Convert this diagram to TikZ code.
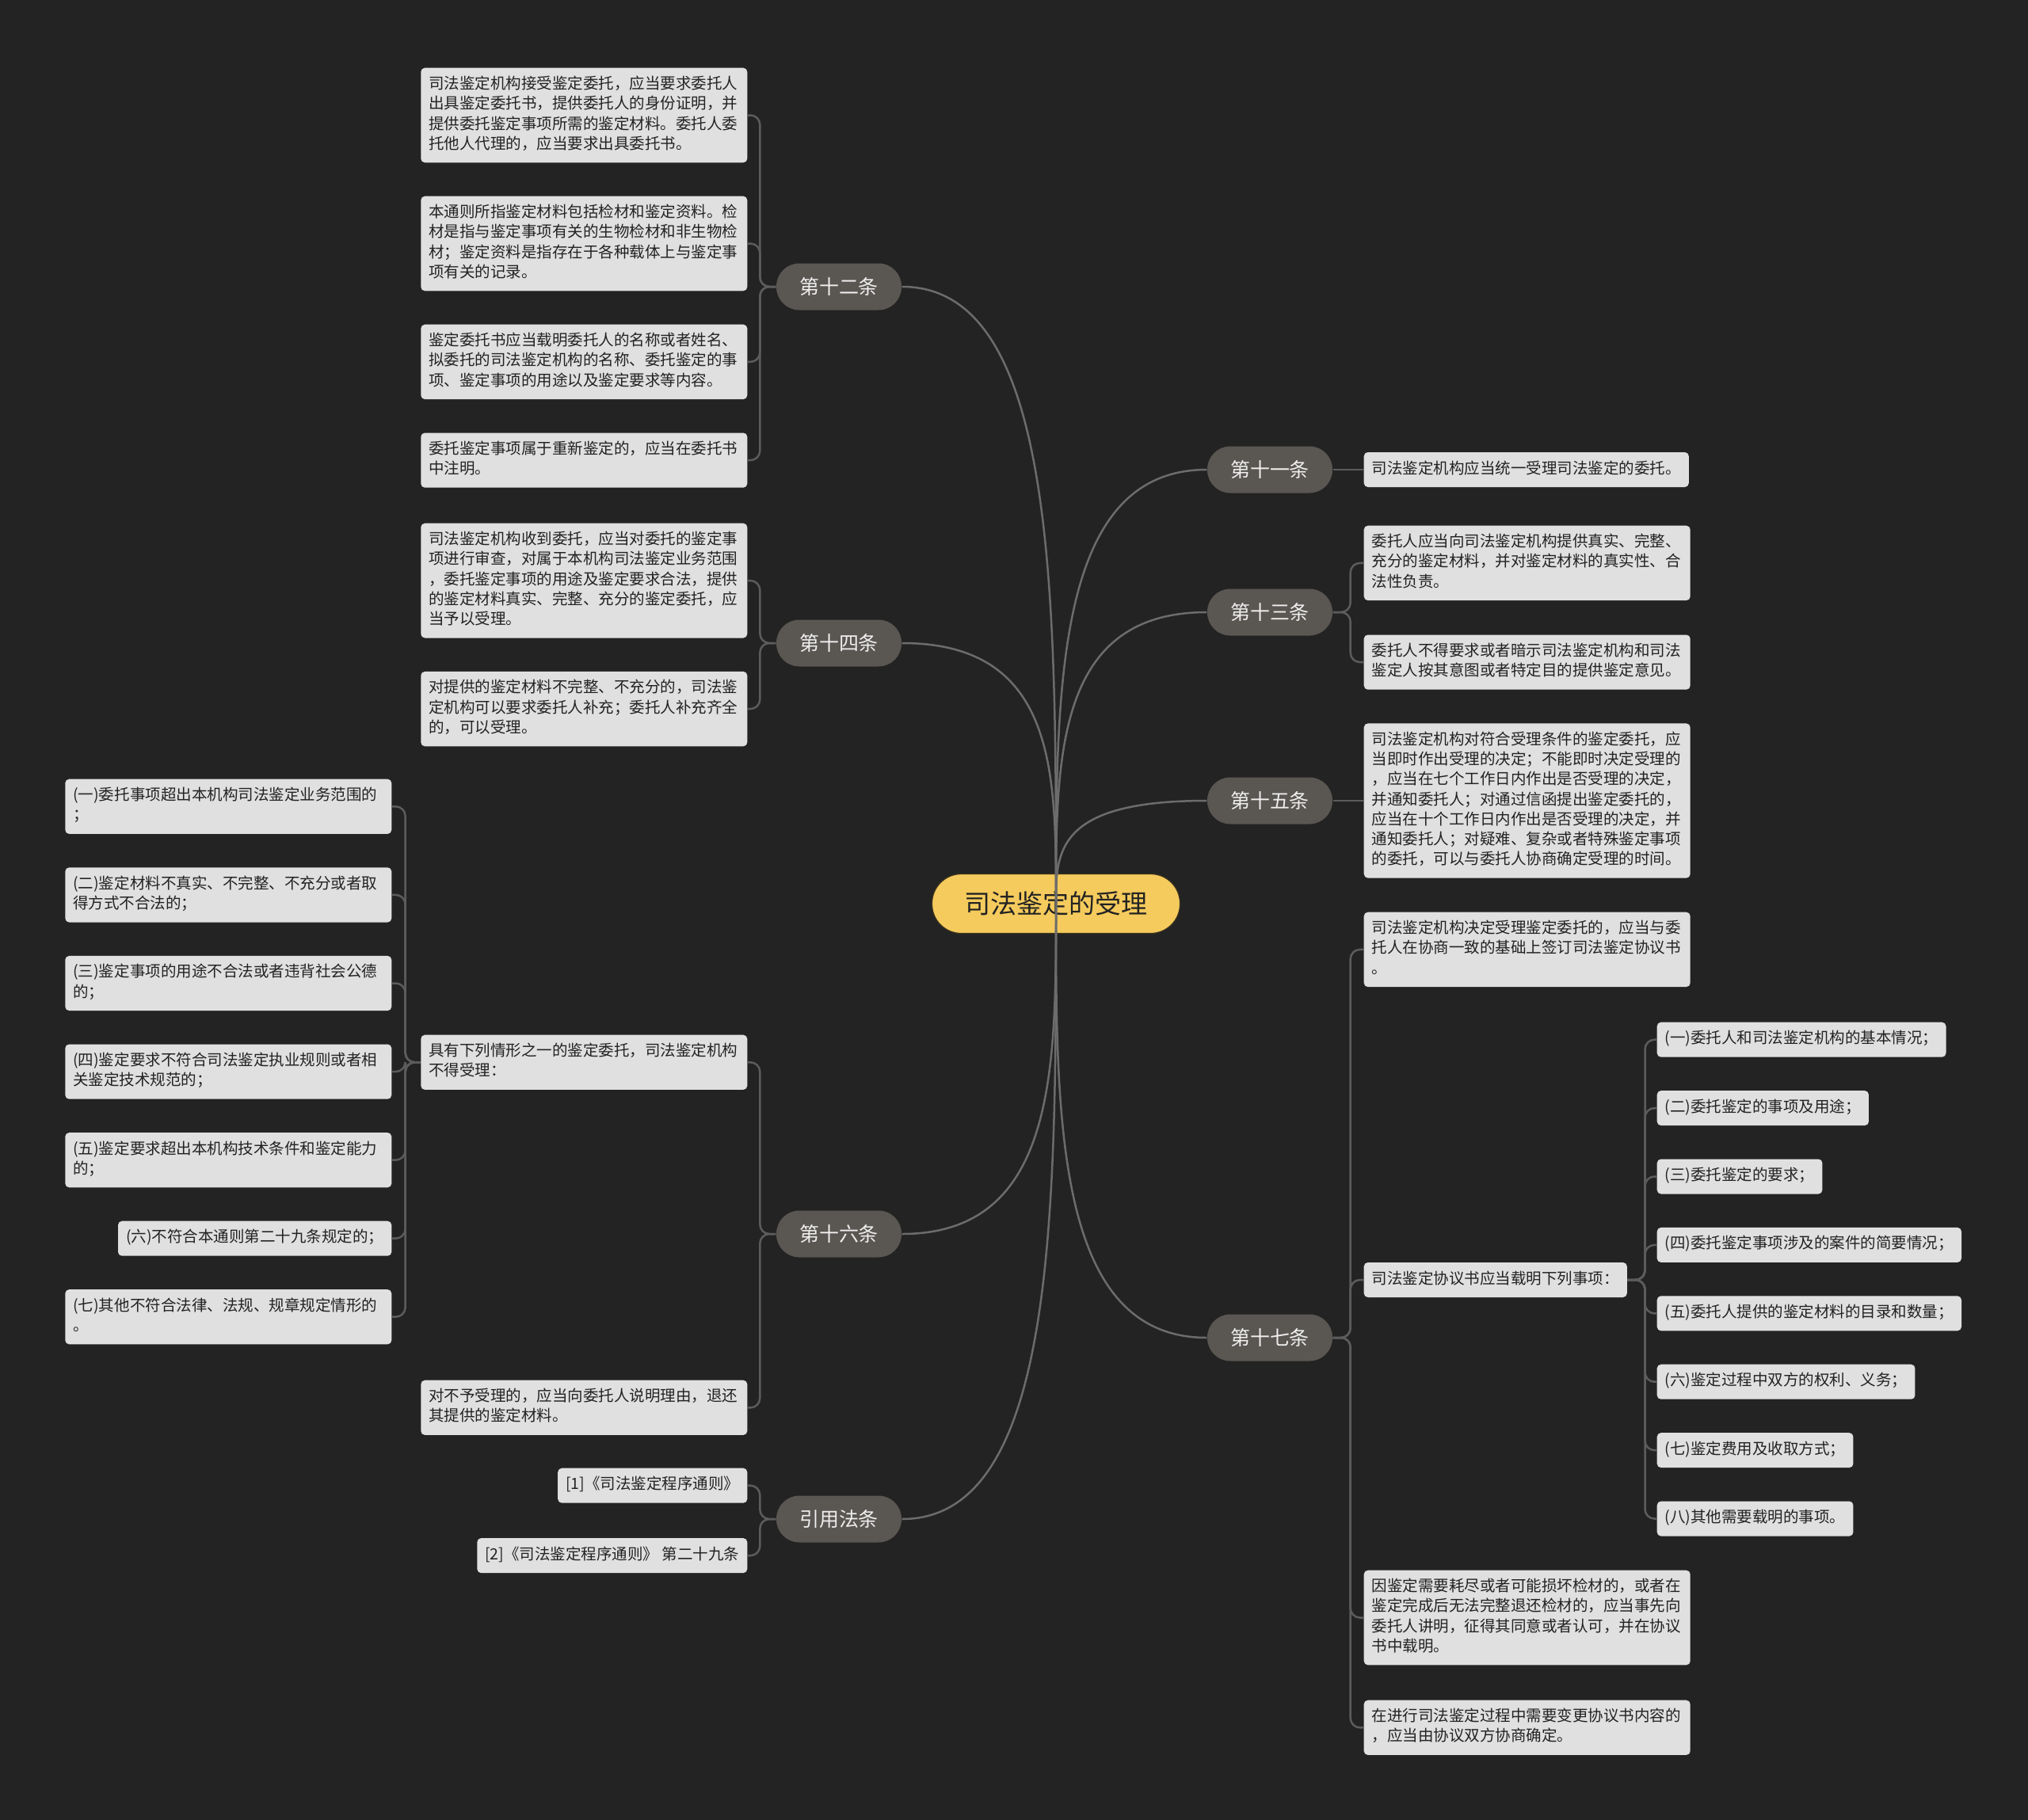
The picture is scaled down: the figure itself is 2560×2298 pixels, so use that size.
\documentclass[tikz,border=0pt]{standalone}
\usepackage{fontspec}
\newfontfamily\cjk{Noto Sans CJK SC}
\usetikzlibrary{positioning}
\setlength\parindent{0pt}

\definecolor{canvasbg}{RGB}{35,35,35}
\definecolor{leaffill}{RGB}{224,224,224}
\definecolor{leafink}{RGB}{34,34,34}
\definecolor{branchfill}{RGB}{90,86,82}
\definecolor{branchink}{RGB}{238,238,238}
\definecolor{topicfill}{RGB}{245,203,93}
\definecolor{topicedge}{RGB}{60,52,30}
\definecolor{trunkline}{RGB}{108,108,108}
\definecolor{twigline}{RGB}{92,92,92}

\newcommand\notefont{\cjk\fontsize{5.55pt}{7.17pt}\selectfont}
\newcommand\branchfont{\cjk\fontsize{7.1pt}{8.5pt}\selectfont}
\newcommand\topicfont{\cjk\fontsize{9.4pt}{11pt}\selectfont}

\begin{document}
\begin{tikzpicture}[
  x=0.1mm, y=-0.1mm,
  node distance=4.1mm,
  item/.style={fill=leaffill, text=leafink, rounded corners=0.5mm, inner xsep=1mm, inner ysep=0.94mm, font=\notefont, execute at begin node=\strut, execute at end node=\strut},
  note/.style={item, text width=39.2mm, align=left},
  branch/.style={fill=branchfill, text=branchink, rounded corners=2.9mm, minimum width=15.8mm, minimum height=5.9mm, inner sep=0pt, font=\branchfont},
  topic/.style={fill=topicfill, draw=topicedge, line width=0.12mm, text=leafink, rounded corners=3.7mm, minimum width=31.3mm, minimum height=7.5mm, inner sep=0pt, font=\topicfont},
  trunk/.style={draw=trunkline, line width=0.25mm},
  twig/.style={draw=twigline, line width=0.25mm, rounded corners=1.2mm}
]

\fill[canvasbg] (0,0) rectangle (2560,2298);

\node[topic] (root) at (1333,1141) {司法鉴定的受理};

\node[branch] (b12) at (1059,362) {第十二条};
\node[branch] (b14) at (1059,812) {第十四条};
\node[branch] (b16) at (1059,1558) {第十六条};
\node[branch] (bref) at (1059,1918) {引用法条};
\node[branch] (b11) at (1603,593) {第十一条};
\node[branch] (b13) at (1603,773) {第十三条};
\node[branch] (b15) at (1603,1011) {第十五条};
\node[branch] (b17) at (1603,1689) {第十七条};

% left side
\node[note, anchor=north east] (l12a) at (944,85) {司法鉴定机构接受鉴定委托，应当要求委托人\\出具鉴定委托书，提供委托人的身份证明，并\\提供委托鉴定事项所需的鉴定材料。委托人委\\托他人代理的，应当要求出具委托书。};
\node[note, below=of l12a] (l12b) {本通则所指鉴定材料包括检材和鉴定资料。检\\材是指与鉴定事项有关的生物检材和非生物检\\材；鉴定资料是指存在于各种载体上与鉴定事\\项有关的记录。};
\node[note, below=of l12b] (l12c) {鉴定委托书应当载明委托人的名称或者姓名、\\拟委托的司法鉴定机构的名称、委托鉴定的事\\项、鉴定事项的用途以及鉴定要求等内容。};
\node[note, below=of l12c] (l12d) {委托鉴定事项属于重新鉴定的，应当在委托书\\中注明。};

\node[note, anchor=north east] (l14a) at (944,660) {司法鉴定机构收到委托，应当对委托的鉴定事\\项进行审查，对属于本机构司法鉴定业务范围\\，委托鉴定事项的用途及鉴定要求合法，提供\\的鉴定材料真实、完整、充分的鉴定委托，应\\当予以受理。};
\node[note, below=of l14a] (l14b) {对提供的鉴定材料不完整、不充分的，司法鉴\\定机构可以要求委托人补充；委托人补充齐全\\的，可以受理。};

\node[note, anchor=north east] (l16a) at (944,1306) {具有下列情形之一的鉴定委托，司法鉴定机构\\不得受理：};
\node[note, anchor=north east] (l16b) at (944,1742) {对不予受理的，应当向委托人说明理由，退还\\其提供的鉴定材料。};

\node[note, anchor=north east] (f1) at (495,983) {(一)委托事项超出本机构司法鉴定业务范围的\\；};
\node[note, below=of f1] (f2) {(二)鉴定材料不真实、不完整、不充分或者取\\得方式不合法的；};
\node[note, below=of f2] (f3) {(三)鉴定事项的用途不合法或者违背社会公德\\的；};
\node[note, below=of f3] (f4) {(四)鉴定要求不符合司法鉴定执业规则或者相\\关鉴定技术规范的；};
\node[note, below=of f4] (f5) {(五)鉴定要求超出本机构技术条件和鉴定能力\\的；};
\node[item, below=of f5.south east, anchor=north east] (f6) {(六)不符合本通则第二十九条规定的；};
\node[note, below=of f6.south east, anchor=north east] (f7) {(七)其他不符合法律、法规、规章规定情形的\\。};

\node[item, anchor=north east] (ref1) at (944,1853) {[1]《司法鉴定程序通则》};
\node[item, below=4.3mm of ref1.south east, anchor=north east] (ref2) {[2]《司法鉴定程序通则》 第二十九条};

% right side
\node[item, anchor=west] (r11) at (1721,593) {司法鉴定机构应当统一受理司法鉴定的委托。};
\node[note, anchor=north west] (r13a) at (1721,663) {委托人应当向司法鉴定机构提供真实、完整、\\充分的鉴定材料，并对鉴定材料的真实性、合\\法性负责。};
\node[note, below=4.2mm of r13a] (r13b) {委托人不得要求或者暗示司法鉴定机构和司法\\鉴定人按其意图或者特定目的提供鉴定意见。};
\node[note, anchor=west] (r15) at (1721,1011) {司法鉴定机构对符合受理条件的鉴定委托，应\\当即时作出受理的决定；不能即时决定受理的\\，应当在七个工作日内作出是否受理的决定，\\并通知委托人；对通过信函提出鉴定委托的，\\应当在十个工作日内作出是否受理的决定，并\\通知委托人；对疑难、复杂或者特殊鉴定事项\\的委托，可以与委托人协商确定受理的时间。};

\node[note, anchor=north west] (r17a) at (1721,1151) {司法鉴定机构决定受理鉴定委托的，应当与委\\托人在协商一致的基础上签订司法鉴定协议书\\。};
\node[item, anchor=west] (r17b) at (1721,1616) {司法鉴定协议书应当载明下列事项：};
\node[note, anchor=north west] (r17c) at (1721,1982) {因鉴定需要耗尽或者可能损坏检材的，或者在\\鉴定完成后无法完整退还检材的，应当事先向\\委托人讲明，征得其同意或者认可，并在协议\\书中载明。};
\node[note, below=4.3mm of r17c] (r17d) {在进行司法鉴定过程中需要变更协议书内容的\\，应当由协议双方协商确定。};

\node[item, anchor=north west] (s1) at (2091,1290) {(一)委托人和司法鉴定机构的基本情况；};
\node[item, below=of s1.south west, anchor=north west] (s2) {(二)委托鉴定的事项及用途；};
\node[item, below=of s2.south west, anchor=north west] (s3) {(三)委托鉴定的要求；};
\node[item, below=of s3.south west, anchor=north west] (s4) {(四)委托鉴定事项涉及的案件的简要情况；};
\node[item, below=of s4.south west, anchor=north west] (s5) {(五)委托人提供的鉴定材料的目录和数量；};
\node[item, below=of s5.south west, anchor=north west] (s6) {(六)鉴定过程中双方的权利、义务；};
\node[item, below=of s6.south west, anchor=north west] (s7) {(七)鉴定费用及收取方式；};
\node[item, below=of s7.south west, anchor=north west] (s8) {(八)其他需要载明的事项。};

% root to branches
\draw[trunk] (root.center) .. controls +(0,-390) and +(195,0) .. (b12.east);
\draw[trunk] (root.center) .. controls +(0,-165) and +(195,0) .. (b14.east);
\draw[trunk] (root.center) .. controls +(0,208) and +(195,0) .. (b16.east);
\draw[trunk] (root.center) .. controls +(0,388) and +(195,0) .. (bref.east);
\draw[trunk] (root.center) .. controls +(0,-274) and +(-191,0) .. (b11.west);
\draw[trunk] (root.center) .. controls +(0,-184) and +(-191,0) .. (b13.west);
\draw[trunk] (root.center) .. controls +(0,-65) and +(-191,0) .. (b15.west);
\draw[trunk] (root.center) .. controls +(0,274) and +(-191,0) .. (b17.west);

% branches to leaves
\draw[twig] (b12.west) -- ++(-20,0) |- (l12a.east);
\draw[twig] (b12.west) -- ++(-20,0) |- (l12b.east);
\draw[twig] (b12.west) -- ++(-20,0) |- (l12c.east);
\draw[twig] (b12.west) -- ++(-20,0) |- (l12d.east);
\draw[twig] (b14.west) -- ++(-20,0) |- (l14a.east);
\draw[twig] (b14.west) -- ++(-20,0) |- (l14b.east);
\draw[twig] (b16.west) -- ++(-20,0) |- (l16a.east);
\draw[twig] (b16.west) -- ++(-20,0) |- (l16b.east);
\draw[twig] (bref.west) -- ++(-20,0) |- (ref1.east);
\draw[twig] (bref.west) -- ++(-20,0) |- (ref2.east);

\draw[twig] (l16a.west) -- ++(-19,0) |- (f1.east);
\draw[twig] (l16a.west) -- ++(-19,0) |- (f2.east);
\draw[twig] (l16a.west) -- ++(-19,0) |- (f3.east);
\draw[twig] (l16a.west) -- ++(-19,0) |- (f4.east);
\draw[twig] (l16a.west) -- ++(-19,0) |- (f5.east);
\draw[twig] (l16a.west) -- ++(-19,0) |- (f6.east);
\draw[twig] (l16a.west) -- ++(-19,0) |- (f7.east);

\draw[twig] (b11.east) -- (r11.west);
\draw[twig] (b13.east) -- ++(22,0) |- (r13a.west);
\draw[twig] (b13.east) -- ++(22,0) |- (r13b.west);
\draw[twig] (b15.east) -- (r15.west);
\draw[twig] (b17.east) -- ++(22,0) |- (r17a.west);
\draw[twig] (b17.east) -- ++(22,0) |- (r17b.west);
\draw[twig] (b17.east) -- ++(22,0) |- (r17c.west);
\draw[twig] (b17.east) -- ++(22,0) |- (r17d.west);

\draw[twig] (r17b.east) -- ++(22,0) |- (s1.west);
\draw[twig] (r17b.east) -- ++(22,0) |- (s2.west);
\draw[twig] (r17b.east) -- ++(22,0) |- (s3.west);
\draw[twig] (r17b.east) -- ++(22,0) |- (s4.west);
\draw[twig] (r17b.east) -- ++(22,0) |- (s5.west);
\draw[twig] (r17b.east) -- ++(22,0) |- (s6.west);
\draw[twig] (r17b.east) -- ++(22,0) |- (s7.west);
\draw[twig] (r17b.east) -- ++(22,0) |- (s8.west);

\end{tikzpicture}
\end{document}
